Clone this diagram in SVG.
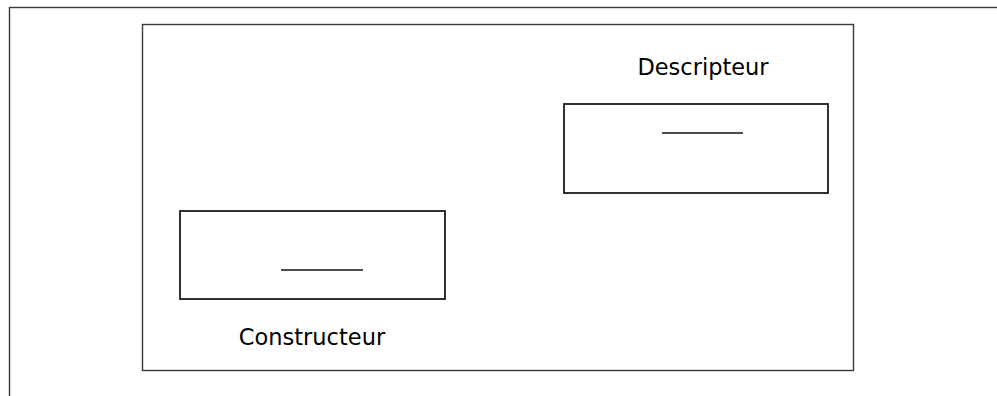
<svg xmlns="http://www.w3.org/2000/svg" width="997" height="396" viewBox="0 0 997 396">
<style>
.frame{fill:none;stroke:#3a3a3a;stroke-width:1.4}
.box{fill:#fff;stroke:#1a1a1a;stroke-width:1.8}
.bar{stroke:#111;stroke-width:1.6}
.lbl{font-family:"DejaVu Sans",sans-serif;font-size:22.5px;fill:#000;text-anchor:middle}
</style>
<rect width="997" height="396" fill="#fff"/>
<rect class="frame" x="9.5" y="7.5" width="1000" height="400"/>
<rect class="frame" x="142.5" y="24.5" width="711" height="346"/>
<g id="descripteur">
<text class="lbl" x="703" y="75">Descripteur</text>
<rect class="box" x="564" y="104" width="264" height="89"/>
<line class="bar" x1="662" y1="133" x2="743" y2="133"/>
</g>
<g id="constructeur">
<rect class="box" x="180" y="211" width="265" height="88"/>
<line class="bar" x1="281" y1="270" x2="363" y2="270"/>
<text class="lbl" x="312" y="345">Constructeur</text>
</g>
<g id="connectors"></g>
</svg>
